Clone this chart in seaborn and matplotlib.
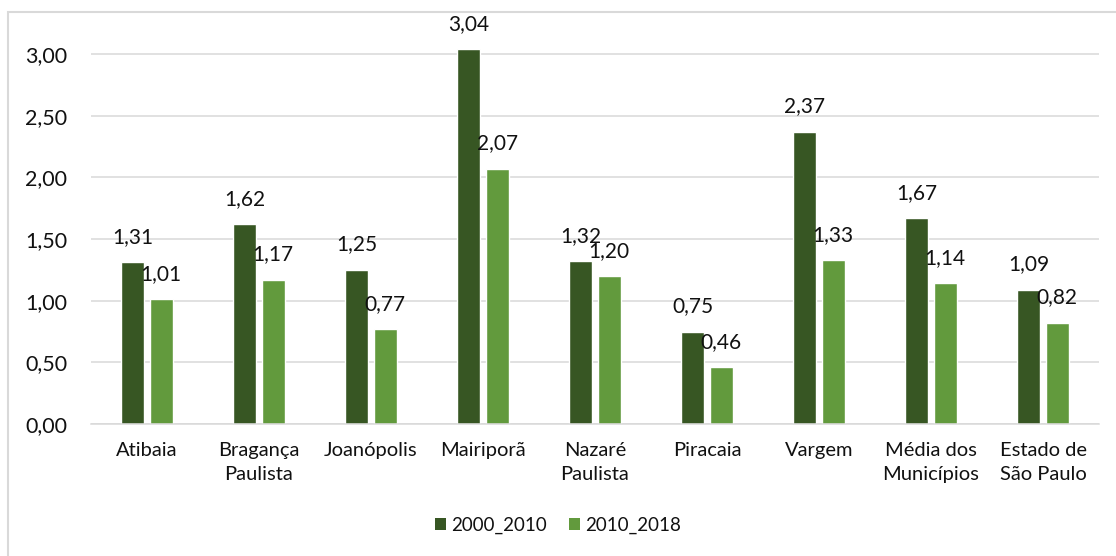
import matplotlib
matplotlib.use("Agg")
import matplotlib.pyplot as plt
import seaborn as sns
import pandas as pd
from matplotlib.patches import Rectangle, Patch

categories = ["Atibaia", "Bragança\nPaulista", "Joanópolis", "Mairiporã", "Nazaré\nPaulista",
              "Piracaia", "Vargem", "Média dos\nMunicípios", "Estado de\nSão Paulo"]
series_names = ["2000_2010", "2010_2018"]
values_2000_2010 = [1.31, 1.62, 1.25, 3.04, 1.32, 0.75, 2.37, 1.67, 1.09]
values_2010_2018 = [1.01, 1.17, 0.77, 2.07, 1.20, 0.46, 1.33, 1.14, 0.82]
y_ticks = [0.0, 0.5, 1.0, 1.5, 2.0, 2.5, 3.0]

colors = ["#375623", "#629A3D"]

df = pd.DataFrame({
    "cat": categories * 2,
    "serie": [series_names[0]] * len(categories) + [series_names[1]] * len(categories),
    "val": values_2000_2010 + values_2010_2018,
})

sns.set_theme(style="white")
plt.rcParams["font.family"] = ["Lato", "DejaVu Sans"]
txt = "#111111"

fig = plt.figure(figsize=(11.16, 5.56), dpi=100)
ax = fig.add_axes([91 / 1116, 1 - 424 / 556, (1099 - 91) / 1116, (424 - 22) / 556])

sns.barplot(data=df, x="cat", y="val", hue="serie", order=categories, hue_order=series_names,
            palette=colors, width=0.51, gap=0.18, saturation=1, ax=ax, legend=False, errorbar=None)

ax.set_ylim(0, (424 - 22) / ((424 - 54) / 3.0))
ax.set_xlim(-0.5, len(categories) - 0.5)
ax.set_yticks(y_ticks)
ax.set_yticklabels([f"{v:.2f}".replace(".", ",") for v in y_ticks], fontsize=15.5, color=txt)
ax.tick_params(axis="y", length=0, pad=17)
ax.tick_params(axis="x", length=0, pad=13, labelsize=14.5, labelcolor=txt)
for lab in ax.get_xticklabels():
    lab.set_linespacing(1.5)
ax.set_xlabel("")
ax.set_ylabel("")
ax.grid(axis="y", color="#D9D9D9", linewidth=1.1)
ax.set_axisbelow(True)
for s in ["top", "right", "left"]:
    ax.spines[s].set_visible(False)
ax.spines["bottom"].set_color("#D9D9D9")
ax.spines["bottom"].set_linewidth(1.1)

for cont in ax.containers:
    labels = [f"{b.get_height():.2f}".replace(".", ",") for b in cont]
    ax.bar_label(cont, labels=labels, padding=11, fontsize=15, color=txt)

handles = [Patch(facecolor=c, edgecolor="none") for c in colors]
fig.legend(handles, series_names, loc="center", bbox_to_anchor=(0.5, 1 - 525 / 556), ncol=2,
           frameon=False, fontsize=13.5, handlelength=0.6, handleheight=0.6, handletextpad=0.25,
           columnspacing=1.2, labelcolor=txt)

fig.patches.append(Rectangle((8 / 1116, -0.1), 1.2, 1 - 12 / 556 + 0.1, transform=fig.transFigure,
                             fill=False, edgecolor="#D9D9D9", linewidth=1.5, zorder=-1))

fig.savefig("out.png", dpi=100)
